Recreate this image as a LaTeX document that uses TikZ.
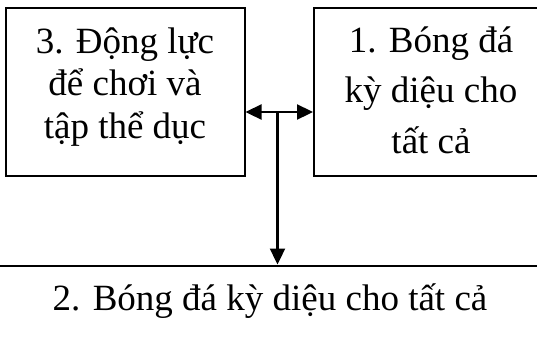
\documentclass[tikz,border=0pt]{standalone}
\usepackage{fontspec}
\setmainfont{Liberation Serif}
\usetikzlibrary{arrows.meta}
\begin{document}
\begin{tikzpicture}[x=1pt,y=-1pt,
  boxst/.style={draw, line width=2pt, inner sep=0pt},
  txt/.style={align=center, inner sep=0pt, font=\fontsize{37}{42.5}\selectfont},
  txtwide/.style={align=center, inner sep=0pt, font=\fontsize{37}{50.5}\selectfont},
  arr/.style={line width=2.3pt, -{Triangle[length=16pt,width=15pt]}}]
\useasboundingbox (0,0) rectangle (537,338);
\clip (0,0) rectangle (537,338);
\node[boxst, minimum width=238.5pt, minimum height=168pt] (b3) at (125.25,92) {};
\node[boxst, minimum width=234pt, minimum height=168pt] (b1) at (431,92) {};
\node[boxst, minimum width=600pt, minimum height=100pt] (b2) at (268.5,315.5) {};
\node[txt, anchor=base] (t3) at (125,138) {3. Động lực\\để chơi và\\tập thể dục};
\node[txtwide, anchor=base] (t1) at (431,153) {1. Bóng đá\\kỳ diệu cho\\tất cả};
\node[txt, anchor=base] (t2) at (270,310) {2. Bóng đá kỳ diệu cho tất cả};
\coordinate (j) at (277.5,112);
\draw[arr] (j) -- (j -| b3.east);
\draw[arr] (j) -- (j -| b1.west);
\draw[arr] (j) -- (j |- b2.north);
\end{tikzpicture}
\end{document}
